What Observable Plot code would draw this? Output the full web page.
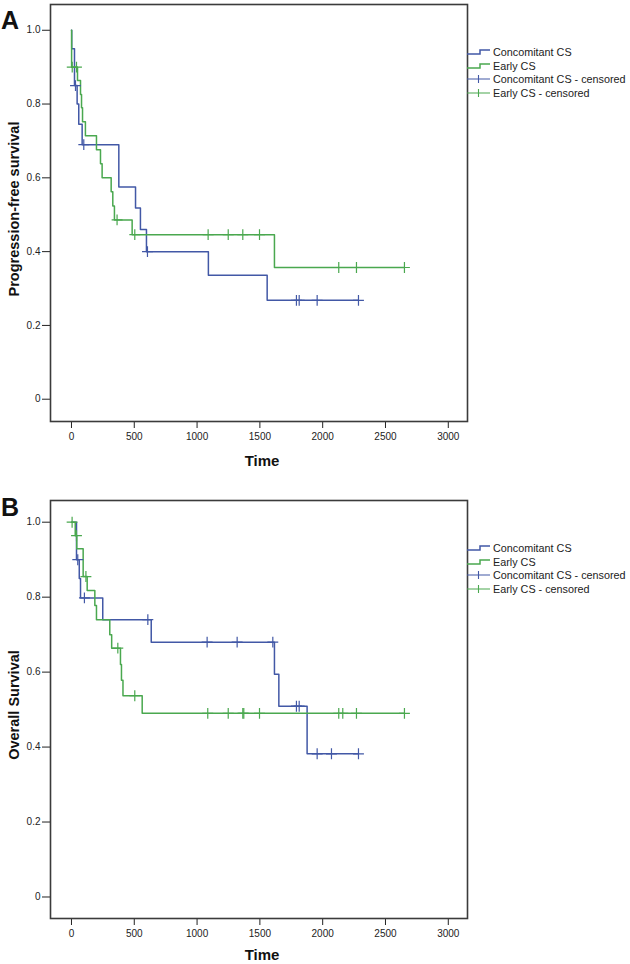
<!DOCTYPE html>
<html>
<head>
<meta charset="utf-8">
<script src="https://cdn.jsdelivr.net/npm/d3@7"></script>
<script src="https://cdn.jsdelivr.net/npm/@observablehq/plot@0.6"></script>
<style>
  body { margin: 0; background: #fff; }
  #page { position: relative; width: 630px; height: 964px; font-family: "Liberation Sans", Arial, Helvetica, sans-serif; color: #111; overflow: hidden; }
  .panel { position: absolute; left: 0; width: 630px; height: 482px; }
  .letter { position: absolute; left: 1px; font-weight: bold; font-size: 25px; line-height: 1; }
  .ytitle { position: absolute; font-weight: bold; font-size: 14.5px; white-space: nowrap; transform: translate(-50%, -50%) rotate(-90deg); }
  .xtitle { position: absolute; font-weight: bold; font-size: 15px; line-height: 1; white-space: nowrap; transform: translate(-50%, -50%); }
  .legend { position: absolute; left: 466px; font-size: 10.8px; color: #222; }
  .legend .item { position: absolute; left: 0; height: 14px; white-space: nowrap; transform: translateY(-50%); display: flex; align-items: center; }
  .legend svg { display: block; margin-right: 3px; }
</style>
</head>
<body>
<div id="page"></div>
<script>
// ---------------- data ----------------
const seriesNames = ["Concomitant CS", "Early CS"];
const seriesColors = ["#4258a6", "#4aa84f"];
const xTicks = [0, 500, 1000, 1500, 2000, 2500, 3000];
const yTicks = [0, 0.2, 0.4, 0.6, 0.8, 1.0];

// Panel A: progression-free survival (event times and survival after each step)
const pfsConcTimes  = [0, 2, 24, 45, 58, 85, 377, 510, 549, 597, 1090, 1558];
const pfsConcSurv   = [1, 0.95, 0.85, 0.80, 0.745, 0.69, 0.575, 0.518, 0.46, 0.40, 0.336, 0.268];
const pfsConcCensor = [32, 98, 605, 1791, 1813, 1956, 2285];

const pfsEarlyTimes  = [0, 1, 48, 72, 80, 88, 111, 199, 231, 244, 316, 329, 342, 483, 1616];
const pfsEarlySurv   = [1, 0.90, 0.864, 0.826, 0.79, 0.752, 0.714, 0.676, 0.638, 0.60, 0.562, 0.524, 0.486, 0.446, 0.357];
const pfsEarlyCensor = [6, 40, 363, 504, 1088, 1248, 1364, 1497, 2128, 2269, 2651];

// Panel B: overall survival
const osConcTimes  = [0, 40, 62, 72, 249, 635, 1616, 1651, 1876];
const osConcSurv   = [1, 0.90, 0.85, 0.798, 0.74, 0.68, 0.594, 0.509, 0.382];
const osConcCensor = [50, 103, 608, 1080, 1319, 1603, 1791, 1813, 1956, 2070, 2285];

const osEarlyTimes  = [0, 30, 42, 93, 125, 186, 199, 305, 320, 390, 398, 410, 563];
const osEarlySurv   = [1, 0.964, 0.929, 0.855, 0.818, 0.778, 0.74, 0.70, 0.664, 0.62, 0.578, 0.537, 0.49];
const osEarlyCensor = [5, 40, 115, 369, 504, 1085, 1248, 1364, 1372, 1497, 2128, 2160, 2269, 2651];

const panelLetters = ["A", "B"];
const yTitles = ["Progression-free survival", "Overall Survival"];
const xTitle = "Time";
const legendLabels = ["Concomitant CS", "Early CS", "Concomitant CS - censored", "Early CS - censored"];

// ---------------- helpers ----------------
function survAt(times, surv, t) {
  let s = surv[0];
  for (let i = 0; i < times.length; i++) if (times[i] <= t) s = surv[i];
  return s;
}
function buildLine(name, times, surv, censor) {
  const pts = times.map((t, i) => ({group: name, t, s: surv[i]}));
  const end = Math.max(times[times.length - 1], d3.max(censor));
  pts.push({group: name, t: end, s: surv[surv.length - 1]});
  return pts;
}
function buildCensor(name, times, surv, censor) {
  return censor.map(t => ({group: name, t, s: survAt(times, surv, t)}));
}

function makePanel(cfg) {
  const lines = [
    ...buildLine(seriesNames[0], cfg.concT, cfg.concS, cfg.concC),
    ...buildLine(seriesNames[1], cfg.earlyT, cfg.earlyS, cfg.earlyC)
  ];
  const cens = [
    ...buildCensor(seriesNames[0], cfg.concT, cfg.concS, cfg.concC),
    ...buildCensor(seriesNames[1], cfg.earlyT, cfg.earlyS, cfg.earlyC)
  ];
  return Plot.plot({
    width: 630,
    height: 482,
    marginLeft: 50,
    marginRight: 163,
    marginTop: cfg.marginTop,
    marginBottom: cfg.marginBottom,
    style: {fontSize: "10px", fontFamily: "'Liberation Sans', Arial, sans-serif", color: "#222", background: "transparent", overflow: "visible"},
    x: {domain: [-167, 3153], ticks: xTicks, tickSize: 7, tickPadding: 4, tickFormat: d => String(d), label: null},
    y: {domain: cfg.yDomain, ticks: yTicks, tickSize: 8, tickPadding: 2, tickFormat: d => d === 0 ? "0" : d.toFixed(1), label: null},
    color: {domain: seriesNames, range: seriesColors},
    marks: [
      Plot.frame({stroke: "#3b3b3b", strokeWidth: 1.6}),
      Plot.line(lines, {x: "t", y: "s", z: "group", stroke: "group", curve: "step-after", strokeWidth: 1.5}),
      Plot.dot(cens, {x: "t", y: "s", stroke: "group", symbol: "plus", r: 3.6, strokeWidth: 1.2})
    ]
  });
}

const panels = [
  {top: 0, marginTop: 4, marginBottom: 61, yDomain: [-0.0604, 1.0698],
   concT: pfsConcTimes, concS: pfsConcSurv, concC: pfsConcCensor,
   earlyT: pfsEarlyTimes, earlyS: pfsEarlySurv, earlyC: pfsEarlyCensor,
   frameTop: 4, frameBottom: 421, titleGap: 39},
  {top: 482, marginTop: 18, marginBottom: 46, yDomain: [-0.0574, 1.0579],
   concT: osConcTimes, concS: osConcSurv, concC: osConcCensor,
   earlyT: osEarlyTimes, earlyS: osEarlySurv, earlyC: osEarlyCensor,
   frameTop: 500, frameBottom: 918, titleGap: 36}
];

const page = document.getElementById("page");

function legendSymbol(kind, color) {
  const ns = "http://www.w3.org/2000/svg";
  const svg = document.createElementNS(ns, "svg");
  svg.setAttribute("width", 24); svg.setAttribute("height", 12);
  const p = document.createElementNS(ns, "path");
  p.setAttribute("d", kind === "line" ? "M1,8H14V4H24" : "M1,6H24M12.5,2V10");
  p.setAttribute("fill", "none");
  p.setAttribute("stroke", color);
  p.setAttribute("stroke-width", kind === "line" ? 1.5 : 1.1);
  svg.appendChild(p);
  return svg;
}

panels.forEach((cfg, k) => {
  const div = document.createElement("div");
  div.className = "panel";
  div.style.top = cfg.top + "px";
  div.appendChild(makePanel(cfg));
  page.appendChild(div);

  const letter = document.createElement("div");
  letter.className = "letter";
  letter.textContent = panelLetters[k];
  letter.style.top = (cfg.frameTop + (k === 0 ? 4 : -5)) + "px";
  page.appendChild(letter);

  const yt = document.createElement("div");
  yt.className = "ytitle";
  yt.textContent = yTitles[k];
  yt.style.left = "14px";
  yt.style.top = ((cfg.frameTop + cfg.frameBottom) / 2 - 4) + "px";
  page.appendChild(yt);

  const xt = document.createElement("div");
  xt.className = "xtitle";
  xt.textContent = xTitle;
  xt.style.left = "262px";
  xt.style.top = (cfg.frameBottom + cfg.titleGap) + "px";
  page.appendChild(xt);

  const lg = document.createElement("div");
  lg.className = "legend";
  lg.style.top = (cfg.frameTop + 48) + "px";
  legendLabels.forEach((lab, i) => {
    const it = document.createElement("div");
    it.className = "item";
    it.style.top = (i * 13.7) + "px";
    it.appendChild(legendSymbol(i < 2 ? "line" : "cens", seriesColors[i % 2]));
    const sp = document.createElement("span");
    sp.textContent = lab;
    it.appendChild(sp);
    lg.appendChild(it);
  });
  page.appendChild(lg);
});
</script>
</body>
</html>
